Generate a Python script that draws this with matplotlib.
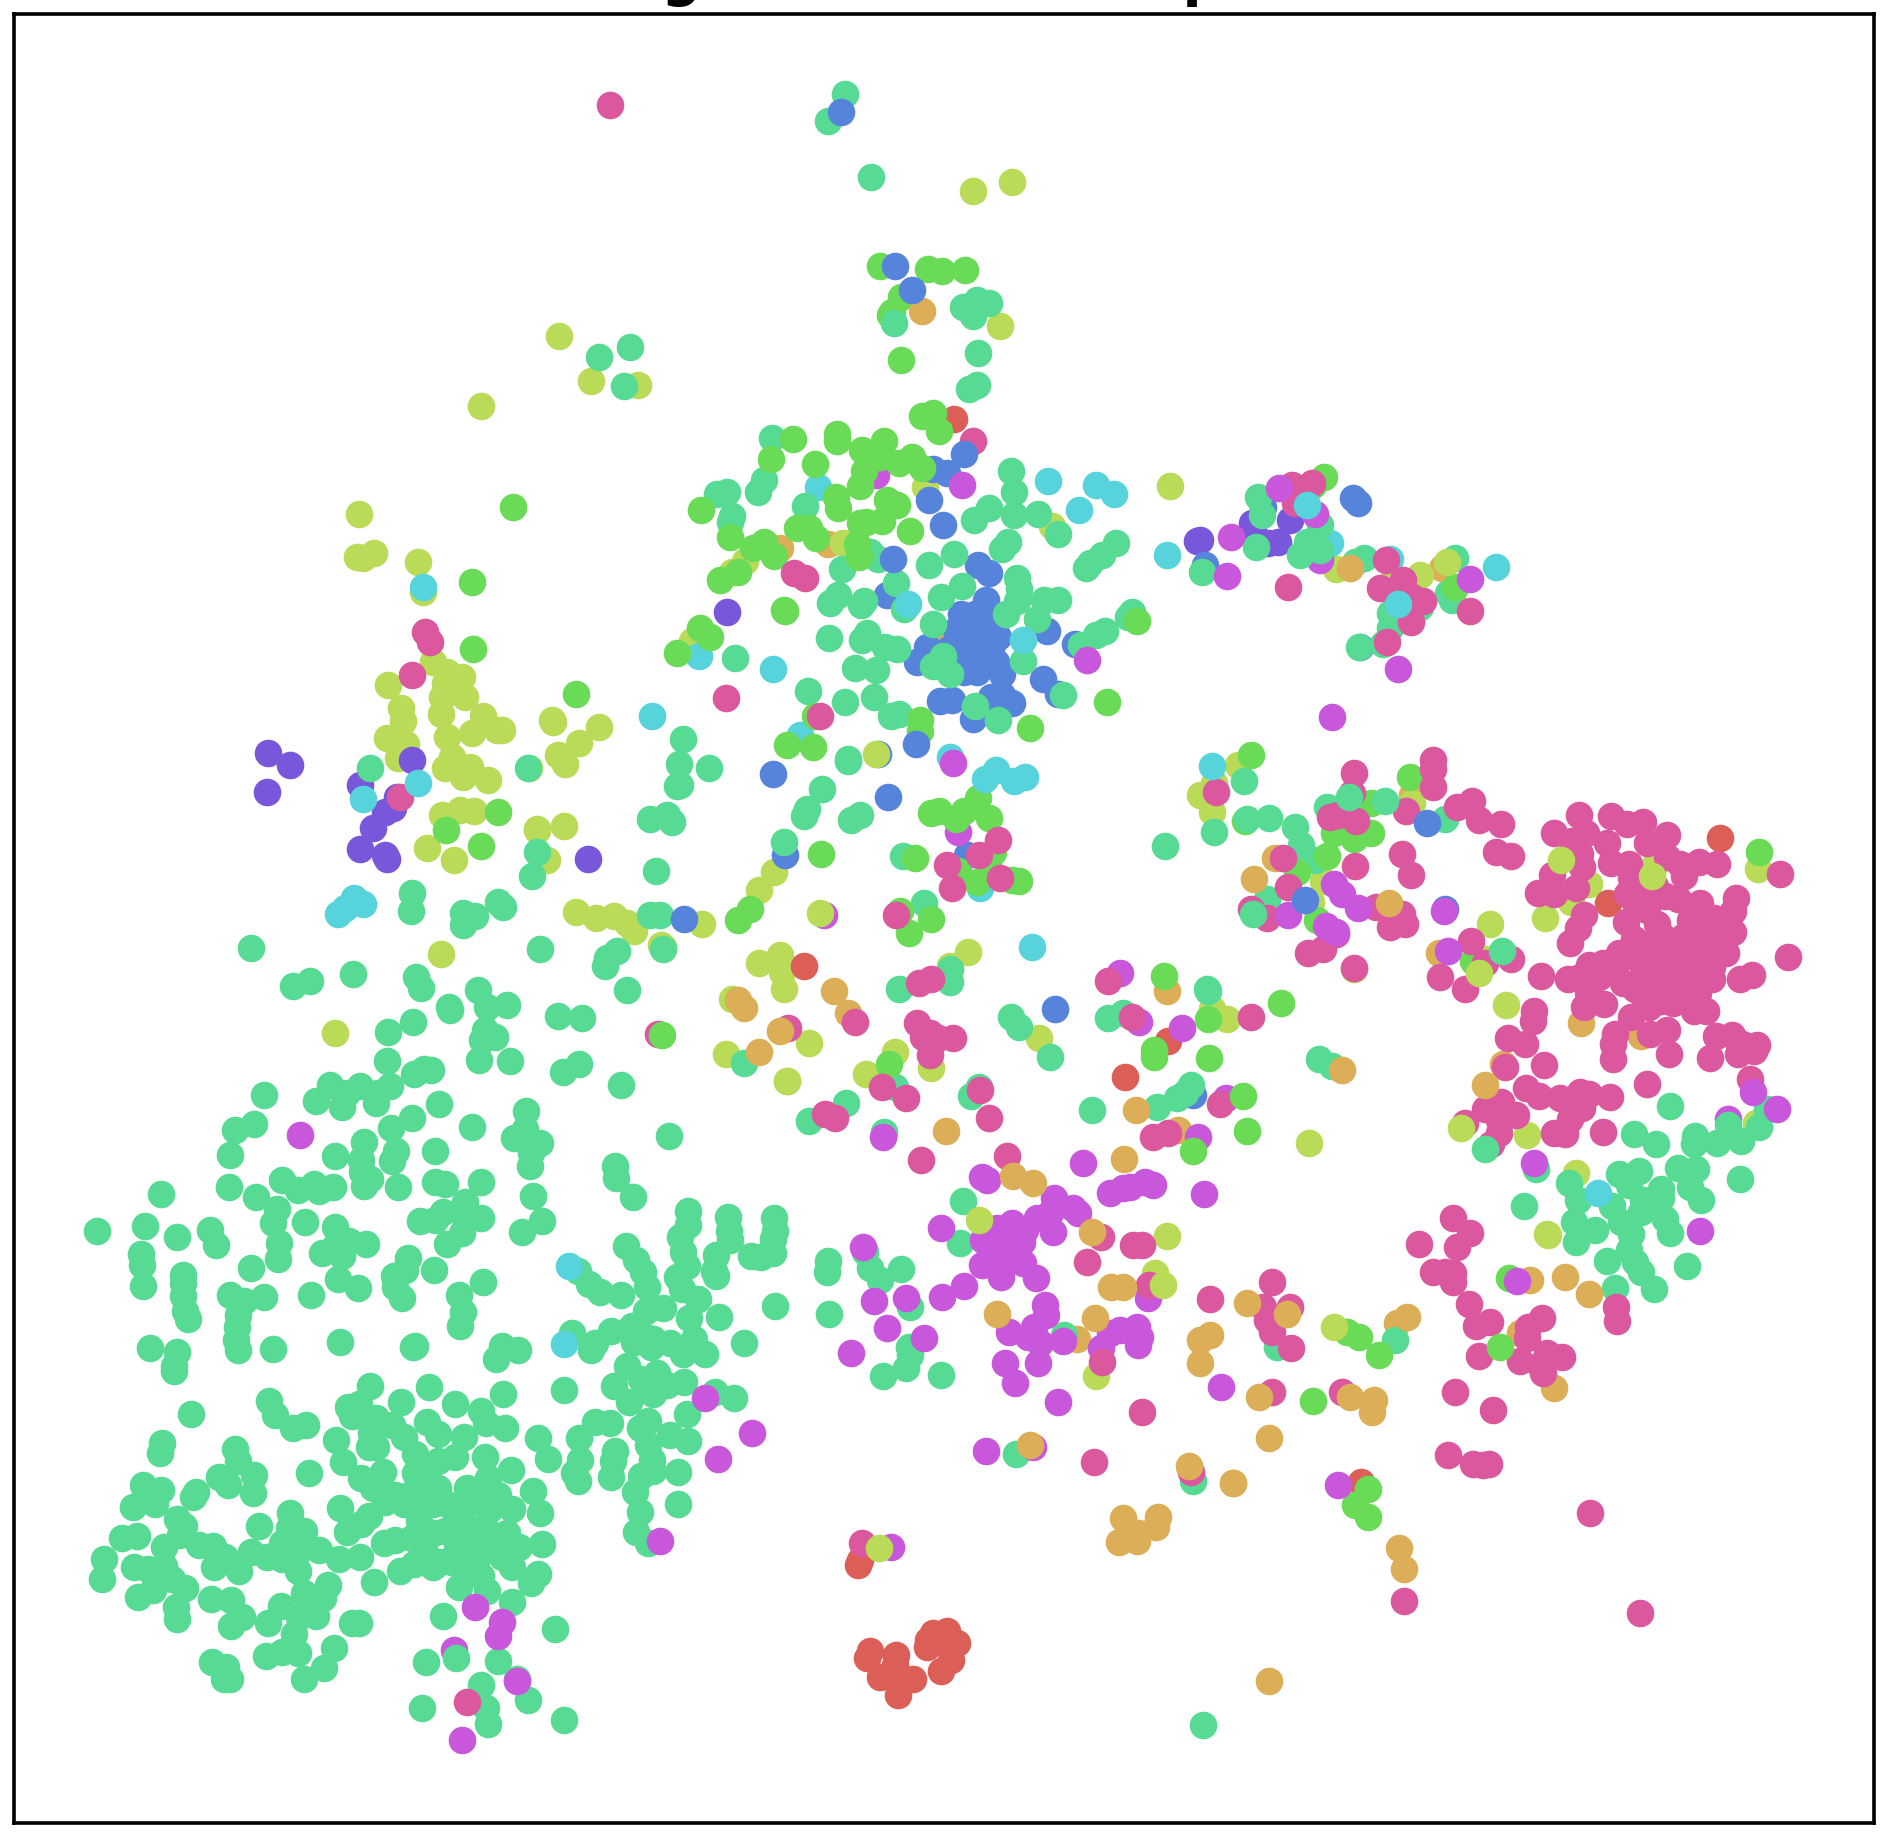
import matplotlib
matplotlib.use("Agg")
import matplotlib.pyplot as plt
import numpy as np

# positions were read off enlarged views of the map: each view has a left edge,
# a top edge (picture pixels) and a magnification
VIEW_A = (60, 1050, 2.0907)
VIEW_B = (650, 400, 2.613)
VIEW_C = (1200, 720, 2.529)
VIEW_D = (550, 60, 3.0)
VIEW_E = (230, 300, 3.0)
VIEW_F = (230, 780, 3.0)
VIEW_G = (780, 1000, 3.0)
VIEW_H = (800, 1420, 3.0)
VIEW_I = (1200, 1230, 3.0)
VIEW_J = (1180, 440, 3.0)

# --- teal ---
teal_a = [(683,22),(740,50),(760,40),(775,42),(875,20),(940,22),(1052,45),(1085,30),(1173,73),(427,95),(565,73),(628,75),(600,90),(535,107),(590,120),(690,75),(665,90),(660,110),(793,113),(735,143),(693,163),(405,155),(365,168),(862,160),(975,128),(972,165),(950,185),(1003,195),(985,215),(982,242),(1273,180),(1160,243),(1163,267),(1198,308),(355,220),(575,222),(635,192),(630,230),(632,255),(703,212),(695,232),(785,212),(648,270),(636,285),(707,287),(465,272),(497,292),(530,280),(542,295),(570,287),(785,275),(805,280),(880,275),(354,287),(212,302),(410,307),(454,332),(445,362),(512,360),(846,318),(800,338),(752,358),(785,355),(880,352),(848,355),(989,305),(1008,358),(966,380),(78,378),(177,368),(244,390),(314,377),(326,408),(170,426),(172,450),(258,470),(174,494),(258,488),(258,515),(262,545),(268,563),(400,456),(457,403),(456,438),(574,370),(605,400),(640,405),(575,410),(547,425),(590,430),(728,435),(698,472),(722,460),(809,405),(840,382),(782,460),(355,513),(385,525),(426,516),(373,555),(370,580),(368,606),(372,627),(582,478),(622,497),(524,512),(700,495),(716,518),(835,513),(842,547),(836,577),(885,486),(189,623),(244,632),(238,660),(238,672),(446,626),(586,611),(738,620),(742,618),(925,618),(957,627),(911,645),
    (1184,410),(1205,440),(1218,465),(1228,495),(1105,490),(1082,462),(1130,505),(1173,512),(1312,337),(1312,365),(1297,390),(1302,422),(1310,452),(1290,475),(1300,500),(1333,520),(1260,540),(1225,545),(1315,560),(1378,558),(1397,350),(1398,378),(1400,398),(1372,428),(1367,462),(1372,472),(1445,430),(1465,432),(1490,425),(1490,395),(1495,378),(1493,352),(1495,536),(1070,592),(1153,588),(1118,612),(1110,628),(1195,578),(1225,600),(1200,610),(1240,605),(1275,612),(1325,605),(1302,635),(1348,636),(1235,620),(1430,612),(1185,660),(1158,703),(1248,675),(1215,688),(1305,695),(1270,700),(1240,720),(1190,735),(1370,716),(1410,728),(1310,760),(1054,710),(1118,778),(1085,812),(1150,780),(1230,775),(1212,790),(1275,805),(1312,818),(1230,825),(1237,858),(1160,838),(1157,860),(1088,858),(1075,885),(1083,902),(1152,892),(1215,890),(1203,925),(1240,880),(1293,883),(1292,949),(1212,965),(1205,1008),(1230,1030),(1000,812),(1020,855),
    (649,702),(771,704),(713,735),(826,740),(927,720),(602,747),(625,740),(610,765),(660,770),(695,785),(720,810),(650,800),(660,830),(645,830),(577,815),(592,862),(630,895),(655,915),(675,882),(742,845),(742,885),(770,875),(790,860),(768,778),(790,803),(845,810),(825,850),(888,850),(880,755),(890,780),(930,790),(943,878),(895,895),(850,915),(790,915),(765,905),(700,930),(680,945),(730,930),(760,950),(810,950),(875,945),(915,930),(945,960),(988,922),(1003,968),(585,957),(645,975),(630,992),(600,1008),(750,985),(805,1005),(850,1000),(900,1010),(935,1010),(735,1020),(700,1025),(677,1030),(760,1040),(795,1070),(780,1080),(740,1075),(710,1090),(657,1112),(850,1045),(890,1040),(925,1060),(960,1040),(1008,1032),(945,1080),(870,1070),(850,1095),(835,1122),(893,1132),(985,1115),(1000,1095),(946,1155),(800,1183),(1035,1210),(438,733),(450,763),(487,790),(515,783),(274,760),(214,822),(210,843),(366,835),(373,860),(405,888),(333,893),(352,910),(404,927),(285,925),(278,935),(174,910),(212,920),(198,950),(152,955),(521,885),(245,980),(260,995),(130,1020),(162,1017),(218,1040),(250,1015),(290,1035),(320,1038),(345,1060),(323,1080),(375,1090),(400,1050),(432,1060),(465,1065),(417,995),(480,968),(478,1000),(510,1005),(465,1030),(497,1050),(542,1045),(583,1065),(628,1060),(497,1090),(155,1080),(185,1085),(218,1078),(235,1105),(200,1115),(262,1125),(195,1130),(163,1143),(92,1065),(88,1105),(243,1165),(245,1190),(316,1148),(358,1150),(380,1185),(357,1205),(435,1198),(462,1163),(500,1185),(535,1183),(510,1135),(560,1118),(550,1145),(610,1198),(625,1198),(572,1250),(552,1292),(510,1315),(498,1260),(465,1258),(430,1268),(490,1220),(318,1280),(347,1290),(342,1315),(355,1315),(765,1280),(828,1272),(915,1278),(880,1328),(978,1360),(955,1315),(890,1375),(895,1410),(756,1375),(1054,1400),(1430,28),
    (830,975),(860,1010),(830,1040),(880,1000),(780,1010),(820,1070),(760,1070),(880,1100),(915,1030),(900,960),(840,960),(780,950),(720,950)]
teal_b = [(320,98),(298,210),(283,240),(175,245),(200,240),(215,303),(210,320),(405,278),(575,398),(595,415),(502,442),(470,530),(490,510),(558,525),(552,535),(642,478),(665,545),(730,432),(794,402),(815,485),(760,515),(942,186),(950,240),(885,283),(847,313),(950,300),(1015,298),(1065,350),(935,370),(920,390),(1218,373),(1180,405),(1140,440),(1150,425),(958,465),(965,495),(958,525),(930,560),(1030,522),(1065,522),(1010,572),(1188,604),(1165,615),(1125,640),(1248,568),(1260,555),(740,585),(765,670),(740,695),(785,715),(975,682),(568,610),(555,628),(615,645),(645,650),(590,705),(535,700),(468,621),(585,775),(510,790),(414,760),(222,673),(850,800),(910,835),(1080,770),(630,825),(650,820),(85,887),(75,952),(155,962),(78,1005),(70,1008),(450,1017),(518,938),(518,942),(410,1068),(402,1088),(550,1085),(525,1097),(0,1095),(45,1085),(57,1103),(350,1155),(15,1230),(25,1345),(0,1345),(660,1192),(716,1315),(1345,1165),(35,1435),(785,1487),(785,1520),(650,1540),(1456,1540)]
teal_c = [(112,155),(35,283),(175,247),(240,270),(255,315),(262,350),(290,355),(320,220),(620,250),(170,452),(20,685),(302,857),(335,875),(850,1135),(1189,977),(820,1230),(933,1172),(955,1213),(1042,1230),(1097,1047),(1152,1072),(1110,1140),(1060,1148),(1085,1175),(1252,1052),(1250,1072),(1307,1070),(1367,1065),(1335,1025),(1413,1030),(1435,985),(1210,1133),(1255,1135),(1240,1180),(1268,1213),(1366,1160),(1165,1185),(1165,1210),(1120,1215),(1175,1262),(1188,1297),(945,1270),(1000,1290),(950,1320),(1065,1270),(1090,1300),(1115,1245),(1030,1367),(1085,1340),(1100,1370),(1115,1395),(1148,1438),(1232,1380),(1050,1437)]
teal_d = [(885,102),(833,183),(964,352),(1240,740),(1280,720),(1318,728),(1270,768),(1285,880),(1256,987),(1280,975)]
teal_e = [(1107,170),(1199,140),(1183,258),(419,1405),(893,1405)]
teal_f = [(921,217),(907,287),(547,340),(543,393),(700,400),(735,408),(698,435),(805,367),(820,380),(62,503),(188,617),(240,603),(369,582),(929,506),(1160,512),(1125,557),(1130,535),(1190,630),(558,592),(573,625),(656,682),(660,690),(745,630),(770,680),(832,674),(985,707),(1056,713),(548,726),(474,757),(765,750),(755,780),(795,770)]
teal_g = [(88,362),(197,310),(345,262),(598,262),(572,287),(693,52),(718,80),(810,172),(312,395),(985,55),(1030,40),(1130,320),(1190,295),(1215,280),(1233,255),(937,330),(548,603),(540,730),(145,783),(140,815),(255,755),(270,805),(300,840),(363,808),(390,920),(148,942),(387,1040),(390,1065),(378,1105),(310,1128),(483,1125),(852,1005)]
teal_h = [(647,103),(1180,183),(1208,915)]
teal_i = [(230,352),(585,330)]
teal_j = [(65,397),(235,170),(245,225),(227,320),(420,255),(380,305),(360,345),(420,330),(400,320),(525,365),(553,355),(630,520),(630,565),(610,613),(537,622),(825,355),(805,460),(815,480),(720,500)]
teal_top_c = [(135,490),(765,585),(720,1085),(467,205),(378,195),(118,250)]
teal_top_d = [(1032,790)]

# --- green ---
green_b = [(712,42),(740,35),(755,82),(373,103),(488,90),(488,108),(555,130),(612,108),(315,153),(430,168),(650,165),(685,150),(710,178),(560,185),(600,150),(548,225),(132,287),(485,253),(492,283),(620,260),(645,275),(605,315),(548,322),(565,320),(680,343),(385,335),(415,335),(435,360),(208,357),(298,370),(270,388),(325,407),(542,375),(545,410),(230,450),(183,470),(352,552),(350,548),(130,595),(157,620),(70,660),(1193,788),(992,857),(705,835),(705,865),(425,908),(357,902),(430,825),(447,1187),(693,1197),(755,1075),(735,1078),(800,1095),(820,1075),(858,1040),(887,1092),(895,1180),(885,1225),(805,1230),(855,1260),(965,1258),(945,1255),(262,1330),(230,1360),(653,1335),(735,1357),(677,1393),(1343,1505)]
green_c = [(130,88),(320,345),(245,385),(432,287),(340,285),(390,300),(432,210),(532,143),(297,505),(690,610),(205,715),(20,755),(22,855),(120,1040),(115,255),(1414,335)]
green_d = [(990,617),(1135,628),(1177,633),(1245,630),(1053,710),(1025,755),(1020,765),(1053,900)]
green_e = [(850,620),(726,845),(730,1048),(1038,1183)]
green_f = [(803,97),(647,150),(753,197)]
green_g = [(327,193),(1122,150),(1122,172)]
green_i = [(440,307),(477,320),(537,375),(505,777),(465,825),(503,862),(340,512),(927,143)]
green_j = [(433,112),(400,135),(825,440)]
green_top_b = [(1273,578)]
green_top_c = [(110,950)]
green_top_f = [(1297,765)]
green_top_g = [(1238,453)]
green_top_i = [(900,350)]

# --- blue ---
blue_b = [(775,190),(740,180),(765,327),(620,510),(857,430),(885,452),(878,522),(813,558),(850,600),(870,590),(910,620),(725,645),(800,635),(850,650),(830,680),(697,685),(905,685),(920,715),(855,710),(1038,603),(1110,638),(1028,728),(1065,767),(757,787),(790,785),(890,777),(945,793),(920,770),(843,833),(322,976),(622,1038),(828,1190),(352,1190),(595,925),
    (830,620),(880,560),(850,560),(800,600),(870,640),(890,650),(835,640),(780,650),(860,680),(880,620),(820,710),(900,560)]
blue_c = [(620,477)]
blue_g = [(825,28),(1240,285)]
blue_j = [(75,375),(250,200),(518,175),(535,190),(540,620)]
blue_top_b = [(820,140),(730,260),(695,898),(88,1357),(635,415)]
blue_top_c = [(265,455),(573,260)]
blue_top_d = [(872,155),(1035,618),(1087,690)]

# --- cyan ---
cyan_a = [(1065,452),(1054,615)]
cyan_b = [(1040,212),(1165,223),(1213,245),(1120,288),(1352,405),(975,627),(675,532),(322,703),(905,968),(875,990),(950,995),(980,985),(997,1430),(5,825)]
cyan_c = [(30,117),(1007,1197)]
cyan_e = [(578,860)]
cyan_f = [(565,10),(398,58),(372,355),(345,385),(400,373),(325,403)]
cyan_j = [(380,195),(653,493),(947,382)]
cyan_low_b = [(438,228),(128,670),(392,875),(785,932),(862,1275)]
cyan_low_j = [(450,308),(630,358)]

# --- yellow ---
yellow_a = [(1393,8),(1520,65)]
yellow_b = [(718,228),(1358,225),(1050,330),(505,373),(247,420),(215,450),(110,630),(323,1233),(285,1280),(135,1370),(30,1425),(285,1472),(340,1450),(345,1495),(350,1540),(832,1443),(785,1480),(215,1565)]
yellow_c = [(97,113),(30,232),(0,190),(35,160),(312,408),(280,460),(535,210),(722,605),(733,517),(985,415),(938,460),(873,502),(1147,370),(1410,377),(775,722),(828,1050),(30,730),(68,755),(390,630),(950,1145),(878,1300),(1405,1020)]
yellow_d = [(1269,392),(1385,367),(1350,797)]
yellow_e = [(986,107),(1083,243),(1224,255),(752,318),(387,643),(380,772),(400,775),(432,758),(564,785),(578,875),(610,1085),(650,1115),(695,1130),(645,1150),(705,1190),(637,1190),(633,1243),(475,1155),(512,1225),(518,1263),(760,1248),(725,1300),(800,1290),(815,1290),(470,1313),(528,1333),(505,1375),(650,1310),(665,1370),(720,1400),(645,1405),(775,1440),(965,1260),(970,1265),(1108,1280),(1048,1330),(985,1365),(1005,1393),(897,1403),(700,1430)]
yellow_f = [(635,105),(690,90),(732,93),(590,205),(672,240),(920,150),(920,147),(1003,137),(950,240),(632,523),(315,760),(1037,395),(1098,413),(1152,408),(1190,430),(1212,452),(1298,500)]
yellow_g = [(88,128),(20,243),(345,155),(452,205),(258,223),(778,113),(1160,708),(948,1127),(1125,820)]
yellow_i = [(1043,15)]
yellow_j = [(467,387),(720,405),(640,420)]
yellow_top_b = [(590,925),(445,1340)]
yellow_top_c = [(912,355),(1143,395),(705,640),(660,1033),(275,1070)]
yellow_top_g = [(598,660),(1150,855)]
yellow_top_h = [(237,383)]
yellow_top_i = [(403,292)]
yellow_top_j = [(802,367)]

# --- orange ---
orange_a = [(1462,5)]
orange_b = [(480,1545),(230,1568),(245,1590)]
orange_c = [(137,402),(477,463),(720,922),(359,885)]
orange_d = [(1115,752)]
orange_g = [(0,93),(497,393),(698,528),(758,550),(1032,477),(935,697),(992,860),(1030,862),(650,943),(945,955),(1068,330)]
orange_h = [(690,75),(1168,137),(1300,190),(968,295),(1075,292),(1068,322),(1015,340),(957,365),(1010,362)]
orange_i = [(142,218),(262,252),(30,315),(0,330),(0,398),(177,502),(450,502),(523,510),(517,545),(207,623),(100,760),(620,262),(1095,140),(1168,192),(597,953),(613,1018),(208,1352)]
orange_j = [(510,385)]
orange_low_b = [(340,388),(465,375),(785,615),(1352,1545)]
orange_low_c = [(190,350),(535,190),(605,590),(963,767),(767,870),(1115,800)]
orange_low_g = [(205,40),(890,1017),(1195,390)]
orange_low_i = [(590,280),(990,150),(1063,475),(960,310)]
orange_low_j = [(787,385)]

# --- pink ---
pink_a = [(850,1363)]
pink_b = [(843,108),(375,452),(405,465),(198,778),(445,825),(910,1150),(860,1188),(775,1215),(790,1275),(915,1250),(643,1347),(703,1523),(733,1512),(1198,1517)]
pink_c = [(40,183),(390,135),(385,185),(350,240),(330,245),(395,255),(590,100),(590,125),(590,170),(522,230),(650,220),(688,205),(705,252),(762,263),(748,335),(787,343),(512,340),(533,393),(392,370),(210,350),(222,422),(445,472),(510,490),(480,523),(518,517),(170,500),(130,478),(272,590),(312,578),(345,540),(390,627),(128,750),(50,970),(685,560),(608,650),(670,680),(720,615),(787,605),
    (958,240),(1040,243),(1080,262),(1120,257),(1182,290),(1130,310),(895,285),(940,305),(975,285),(1030,310),(960,340),(965,372),(1040,362),(1085,365),(1180,347),(1215,365),(1262,360),(1307,365),(1225,395),(890,393),(855,438),(895,440),(950,425),(1080,440),(1115,455),(1175,445),(1210,452),(1265,462),(1355,450),(1348,483),(1270,485),(1240,505),(1300,535),(1347,535),(972,492),(955,525),(935,565),(1078,512),(1155,515),(1168,545),(1098,555),(1330,590),(1270,580),(1230,590),(1180,600),(1140,610),(1070,600),(1020,615),(985,620),(930,655),(863,647),(960,650),(1010,650),(1070,665),(1130,660),(1185,680),(1240,640),(1295,655),(1365,655),(1395,645),(1295,625),(980,690),(970,725),(1022,718),(1115,690),(1165,710),(1195,715),(1250,735),(1280,735),(1090,752),(1135,725),(1050,795),(1045,820),(1045,858),(1137,795),(1182,785),(1185,845),(1488,600),(1468,390),(1260,690),(1225,545),(1100,600),(1160,640),(1220,690),
    (1200,560),(1240,560),(1300,580),(1260,620),(1120,570),(1050,640),(1200,640),(1260,530),(1300,500),(1120,640),(1170,630),(1100,680),(1130,700),(1200,590),(1270,640),(1240,700),(1130,480),(1060,590),(1100,460),(1150,420),(1090,400),
    (845,735),(843,762),(778,805),(823,820),(870,873),(772,878),(1130,920),(1305,800),(1345,797),(1370,820),(1408,823),(1400,838),(1290,855),(1360,845),(1390,908),(825,930),(857,952),(910,957),(960,940),(985,945),(1037,953),(965,980),(935,1010),(895,1045),(922,1047),(1020,1043),(760,965),(720,985),(670,1018),(755,1012),(800,1000),(755,1045),(735,1072),(640,1260)]
pink_d = [(181,135)]
pink_e = [(585,997),(600,1025),(545,1125)]
pink_f = [(510,50),(1285,763)]
pink_g = [(25,85),(225,65),(410,70),(450,100),(475,115),(518,115),(430,110),(450,165),(135,343),(165,355),(305,262),(378,295),(600,270),(628,353),(422,480),(682,468),(1055,50),(962,710),(921,785),(1060,735),(1085,735),(1108,855),(1118,412),(1165,400),(967,1085),(1085,1237)]
pink_h = [(883,127),(1172,157),(187,370)]
pink_i = [(658,43),(772,50),(810,10),(700,127),(760,130),(735,125),(758,155),(807,222),(870,275),(828,287),(1025,263),(985,290),(980,325),(1040,368),(1085,382),(960,393),(1030,430),(1020,405),(836,377),(1247,230),(1252,272),(30,208),(215,155),(190,230),(270,230),(215,305),(200,270),(273,355),(215,487),(427,485),(765,487),(880,540),(745,675),(820,703),(868,703),(850,705),(1170,848),(1320,1148),(612,1113)]
pink_j = [(335,135),(375,155),(345,190),(395,130),(323,440),(617,360),(600,443),(668,420),(695,470),(728,482),(693,547),(620,605),(870,512)]

# --- magenta ---
magenta_a = [(502,177),(1348,728),(1447,800),(1375,855),(1255,1026),(868,1165),(924,1195),(916,1225),(955,1320),(840,1443)]
magenta_b = [(815,222),(1143,680),(793,948),(455,1345)]
magenta_c = [(340,415),(360,440),(400,475),(222,493),(318,520),(345,535),(617,483),(627,585),(1399,940),(1460,985),(845,1120),(10,1200),(1265,1293)]
magenta_g = [(308,410),(605,530),(620,540),(908,490),
    (990,580),(1030,565),(1050,562),(1095,545),(1120,555),(823,595),(880,625),(895,640),(770,655),(810,640),(820,695),(695,668),(650,685),(735,690),(610,720),(680,720),(725,725),(640,755),(700,770),(607,795),(660,795),(730,790),(663,832),(768,833),(552,858),(487,890),(482,683),
    (248,740),(282,903),(378,895),(322,985),(431,1015),(213,1060),(795,915),(798,945),(762,980),(688,995),(745,1010),(780,1030),(850,1023),(990,1000),(1020,990),(1070,980),(1080,1012),(1075,1035),(775,1088),(675,1090),(705,1150),(835,1205)]
magenta_h = [(557,92),(700,80),(273,380)]
magenta_i = [(950,153),(62,472),(413,765)]
magenta_j = [(152,292),(140,407),(297,145),(405,222),(870,418),(655,686),(457,830)]
magenta_low_a = [(823,1255)]
magenta_low_b = [(590,195),(805,1128),(1228,1498)]
magenta_low_c = [(65,955),(1335,1010)]
magenta_low_g = [(1078,65),(1255,410),(1104,895),(963,1045),(1205,85)]
magenta_low_j = [(420,360)]

# --- purple ---
purple_b = [(200,553)]
purple_e = [(115,1360),(180,1395),(545,1380)]
purple_f = [(110,35),(390,15),(490,85),(465,95),(500,50),(430,143),(390,207),(465,225),(472,238),(1075,237)]
purple_j = [(50,303),(60,300),(215,250),(220,270),(265,310),(295,305),(330,240)]

# --- red ---
red_b = [(795,50),(403,1480)]
red_c = [(1315,298),(1033,462)]
red_g = [(1163,123),(1036,232)]
red_h = [(180,420),(175,435),(210,692),(200,715),(287,705),(285,735),(240,770),(290,770),(340,778),(295,825),(400,640),(385,660),(382,680),(440,632),(470,670),(452,720),(422,752),(450,680)]
red_i = [(482,757)]

TITLE = "Single-Cell Atlas Map"
PIXEL_W, PIXEL_H = 1889, 1841
LEFT, RIGHT, TOP, BOTTOM = 14, 1874, 14, 1823


def from_view(points, view):
    x0, y0, k = view
    return np.array(points, dtype=float) / k + [x0, y0]


def gather(*parts):
    return np.vstack([from_view(p, v) for p, v in parts])


teal = gather((teal_a, VIEW_A), (teal_b, VIEW_B), (teal_c, VIEW_C), (teal_d, VIEW_D), (teal_e, VIEW_E),
              (teal_f, VIEW_F), (teal_g, VIEW_G), (teal_h, VIEW_H), (teal_i, VIEW_I), (teal_j, VIEW_J))
green = gather((green_b, VIEW_B), (green_c, VIEW_C), (green_d, VIEW_D), (green_e, VIEW_E), (green_f, VIEW_F),
               (green_g, VIEW_G), (green_i, VIEW_I), (green_j, VIEW_J))
blue = gather((blue_b, VIEW_B), (blue_c, VIEW_C), (blue_g, VIEW_G), (blue_j, VIEW_J))
cyan = gather((cyan_a, VIEW_A), (cyan_b, VIEW_B), (cyan_c, VIEW_C), (cyan_e, VIEW_E), (cyan_f, VIEW_F), (cyan_j, VIEW_J))
yellow = gather((yellow_a, VIEW_A), (yellow_b, VIEW_B), (yellow_c, VIEW_C), (yellow_d, VIEW_D), (yellow_e, VIEW_E),
                (yellow_f, VIEW_F), (yellow_g, VIEW_G), (yellow_i, VIEW_I), (yellow_j, VIEW_J))
orange = gather((orange_a, VIEW_A), (orange_b, VIEW_B), (orange_c, VIEW_C), (orange_d, VIEW_D), (orange_g, VIEW_G),
                (orange_h, VIEW_H), (orange_i, VIEW_I), (orange_j, VIEW_J))
pink = gather((pink_a, VIEW_A), (pink_b, VIEW_B), (pink_c, VIEW_C), (pink_d, VIEW_D), (pink_e, VIEW_E), (pink_f, VIEW_F),
              (pink_g, VIEW_G), (pink_h, VIEW_H), (pink_i, VIEW_I), (pink_j, VIEW_J))
magenta = gather((magenta_a, VIEW_A), (magenta_b, VIEW_B), (magenta_c, VIEW_C), (magenta_g, VIEW_G), (magenta_h, VIEW_H),
                 (magenta_i, VIEW_I), (magenta_j, VIEW_J))
purple = gather((purple_b, VIEW_B), (purple_e, VIEW_E), (purple_f, VIEW_F), (purple_j, VIEW_J))
red = gather((red_b, VIEW_B), (red_c, VIEW_C), (red_g, VIEW_G), (red_h, VIEW_H), (red_i, VIEW_I))
yellow_top = gather((yellow_top_b, VIEW_B), (yellow_top_c, VIEW_C), (yellow_top_g, VIEW_G), (yellow_top_h, VIEW_H),
                    (yellow_top_i, VIEW_I), (yellow_top_j, VIEW_J))
teal_top = gather((teal_top_c, VIEW_C), (teal_top_d, VIEW_D))
green_top = gather((green_top_b, VIEW_B), (green_top_c, VIEW_C), (green_top_f, VIEW_F), (green_top_g, VIEW_G), (green_top_i, VIEW_I))
blue_top = gather((blue_top_b, VIEW_B), (blue_top_c, VIEW_C), (blue_top_d, VIEW_D))
orange_low = gather((orange_low_b, VIEW_B), (orange_low_c, VIEW_C), (orange_low_g, VIEW_G), (orange_low_i, VIEW_I), (orange_low_j, VIEW_J))
cyan_low = gather((cyan_low_b, VIEW_B), (cyan_low_j, VIEW_J))
magenta_low = gather((magenta_low_a, VIEW_A), (magenta_low_b, VIEW_B), (magenta_low_c, VIEW_C), (magenta_low_g, VIEW_G), (magenta_low_j, VIEW_J))

# hls palette, painted back to front
RED, ORANGE, YELLOW, GREEN, TEAL = "#db5f57", "#dbae57", "#b9db57", "#69db57", "#57db94"
CYAN, BLUE, PURPLE, MAGENTA, PINK = "#57d3db", "#5784db", "#7957db", "#c957db", "#db579e"
layers = [
    (orange_low, ORANGE),
    (yellow, YELLOW),
    (red, RED),
    (purple, PURPLE),
    (blue, BLUE),
    (cyan_low, CYAN),
    (magenta_low, MAGENTA),
    (teal, TEAL),
    (green, GREEN),
    (pink, PINK),
    (magenta, MAGENTA),
    (orange, ORANGE),
    (cyan, CYAN),
    (yellow_top, YELLOW),
    (teal_top, TEAL),
    (green_top, GREEN),
    (blue_top, BLUE),
]

fig = plt.figure(figsize=(PIXEL_W / 100, PIXEL_H / 100), dpi=100)
ax = fig.add_axes([LEFT / PIXEL_W, 1 - BOTTOM / PIXEL_H, (RIGHT - LEFT) / PIXEL_W, (BOTTOM - TOP) / PIXEL_H])
for points, colour in layers:
    ax.scatter(points[:, 0], points[:, 1], s=395, c=colour, linewidths=0)
ax.set_xlim(LEFT, RIGHT)
ax.set_ylim(BOTTOM, TOP)
ax.set_xticks([])
ax.set_yticks([])
for spine in ax.spines.values():
    spine.set_linewidth(2.6)

# only the descenders of the title fall inside the canvas
fig.text(0.473, 1 + 5 / PIXEL_H, TITLE, ha="center", va="baseline", fontsize=39.5, fontweight="bold")

fig.savefig("out.png", dpi=100)
